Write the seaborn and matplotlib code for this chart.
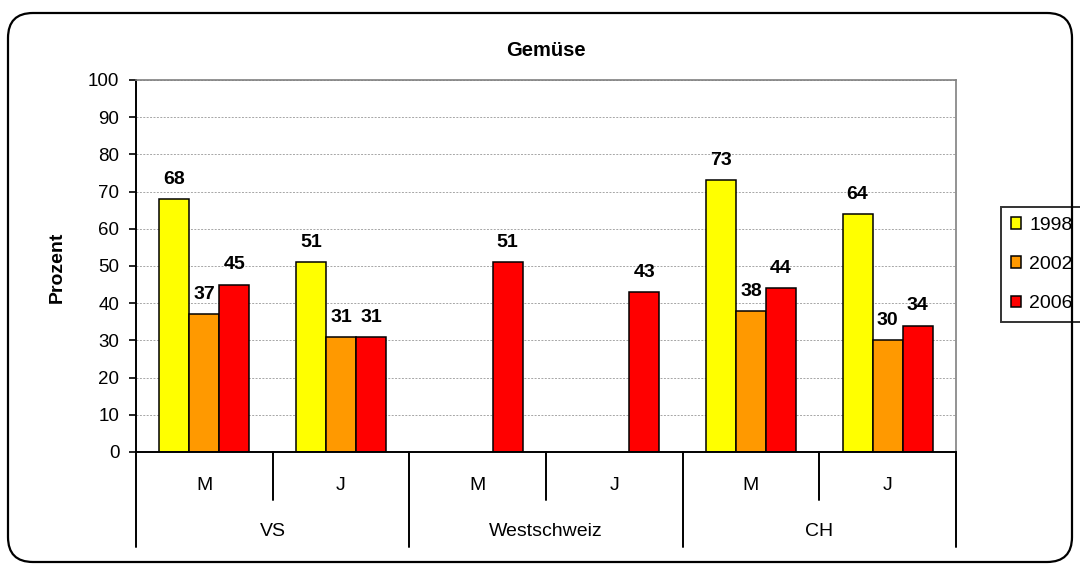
import numpy as np
import pandas as pd
import matplotlib
matplotlib.use("Agg")
import matplotlib.pyplot as plt
import matplotlib.transforms as mtransforms
from matplotlib.patches import FancyBboxPatch
import seaborn as sns

# ---- data ----
regions = ["VS", "VS", "Westschweiz", "Westschweiz", "CH", "CH"]
sexes = ["M", "J", "M", "J", "M", "J"]
years = ["1998", "2002", "2006"]
v1998 = [68, 51, np.nan, np.nan, 73, 64]
v2002 = [37, 31, np.nan, np.nan, 38, 30]
v2006 = [45, 31, 51, 43, 44, 34]
colors = ["#FFFF00", "#FF9900", "#FF0000"]
title = "Gemüse"
ylabel = "Prozent"

cats = [f"{r}|{s}" for r, s in zip(regions, sexes)]
rows = []
for y, vals in zip(years, [v1998, v2002, v2006]):
    for c, v in zip(cats, vals):
        rows.append({"cat": c, "year": y, "value": v})
df = pd.DataFrame(rows).dropna()

sns.set_theme(style="white")
plt.rcParams["font.family"] = ["Liberation Sans", "DejaVu Sans"]
for k in ["text.color", "axes.labelcolor", "xtick.color", "ytick.color"]:
    plt.rcParams[k] = "black"

W, H = 1080, 565
fig = plt.figure(figsize=(W / 100, H / 100), dpi=100)
fig.patch.set_facecolor("white")

# rounded outer frame (pixel coordinates)
frame = FancyBboxPatch((8, 3), 1064, 549, boxstyle="round,pad=0,rounding_size=25",
                       transform=None, facecolor="none", edgecolor="black",
                       linewidth=1.6, zorder=0)
fig.patches.append(frame)

ax = fig.add_axes([136 / W, 1 - 452 / H, 820 / W, 372 / H])
sns.barplot(data=df, x="cat", y="value", hue="year", order=cats, hue_order=years,
            palette=colors, saturation=1, width=0.66, edgecolor="black",
            linewidth=1.1, errorbar=None, ax=ax)

for cont in ax.containers:
    ax.bar_label(cont, fmt="%.0f", padding=8, fontsize=14, fontweight="bold")

ax.set_ylim(0, 100)
ax.set_xlim(-0.5, len(cats) - 0.5)
ax.set_yticks(np.arange(0, 101, 10))
ax.tick_params(axis="y", direction="out", length=5, width=1.2, color="black",
               labelsize=13.5, pad=7, left=True)
ax.tick_params(axis="x", length=0, labelbottom=False)
ax.set_xlabel("")
ax.set_ylabel("")
ax.yaxis.grid(True, color="#a6a6a6", linestyle=(0, (2, 1.5)), linewidth=0.7)
ax.set_axisbelow(True)
for s in ["left", "bottom"]:
    ax.spines[s].set_color("black")
    ax.spines[s].set_linewidth(1.4)
for s in ["top", "right"]:
    ax.spines[s].set_color("#808080")
    ax.spines[s].set_linewidth(1.2)

# multi-level category axis
trans = mtransforms.blended_transform_factory(ax.transData, ax.transAxes)
for i, s in enumerate(sexes):
    ax.text(i, -0.089, s, transform=trans, ha="center", va="center", fontsize=14)
groups = []
for i, r in enumerate(regions):
    if not groups or groups[-1][0] != r:
        groups.append([r, i, i])
    else:
        groups[-1][2] = i
for r, a, b in groups:
    ax.text((a + b) / 2, -0.215, r, transform=trans, ha="center", va="center", fontsize=14)
    for i in range(a, b):
        ax.plot([i + 0.5, i + 0.5], [0, -0.129], transform=trans, color="black",
                linewidth=1.4, clip_on=False)
bounds = [groups[0][1] - 0.5] + [g[2] + 0.5 for g in groups]
for xb in bounds:
    ax.plot([xb, xb], [0, -0.255], transform=trans, color="black",
            linewidth=1.4, clip_on=False)

fig.text(546 / W, 1 - 50 / H, title, ha="center", va="center", fontsize=14.5, fontweight="bold")
fig.text(57 / W, 1 - 267 / H, ylabel, ha="center", va="center", rotation=90,
         fontsize=14, fontweight="bold")

handles, labels = ax.get_legend_handles_labels()
ax.legend(handles, labels, loc="upper left", bbox_to_anchor=(1001 / W, 1 - 207 / H),
          bbox_transform=fig.transFigure, frameon=True, fancybox=False,
          edgecolor="black", fontsize=14, handlelength=0.55, handleheight=0.55,
          handletextpad=0.4, labelspacing=1.15, borderpad=0.5, borderaxespad=0)
leg = ax.get_legend()
leg.get_frame().set_linewidth(1.4)
for h in leg.legend_handles:
    h.set_edgecolor("black")
    h.set_linewidth(1.1)

fig.savefig("out.png", dpi=100)
